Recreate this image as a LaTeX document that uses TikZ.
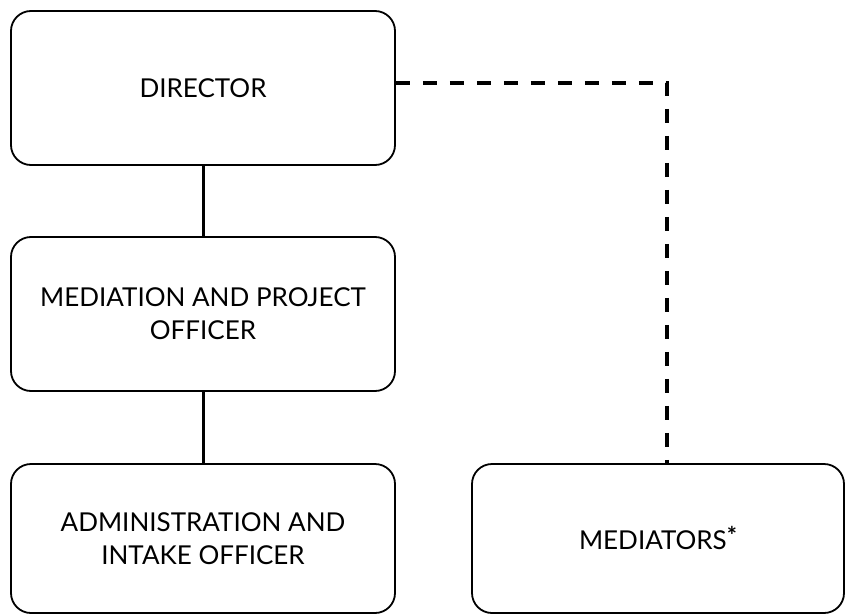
\documentclass[tikz,border=0pt]{standalone}
\usepackage{fontspec}
\setmainfont{Lato}
\usepackage{tikz}

\tikzset{
  unit/.style={draw, line width=1.8pt, rounded corners=20pt, align=center,
    inner sep=0pt, font=\fontsize{26}{33}\selectfont},
  solidlink/.style={line width=3pt},
  dashlink/.style={line width=3.2pt, dash pattern=on 14pt off 13pt}
}

\begin{document}
\begin{tikzpicture}[x=1pt, y=-1pt]

  \useasboundingbox (0,0) rectangle (845,615);

  \newcommand\BoxW{384pt}
  \newcommand\BoxH{154pt}

  \node[unit, minimum width=\BoxW, minimum height=\BoxH] (director) at (203, 88) {DIRECTOR};
  \node[unit, minimum width=\BoxW, minimum height=\BoxH] (mediation) at (203, 314)
    {MEDIATION AND PROJECT\\OFFICER};
  \node[unit, minimum width=\BoxW, minimum height=149pt] (admin) at (203, 538.5)
    {ADMINISTRATION AND\\INTAKE OFFICER};
  \node[unit, minimum width=372pt, minimum height=149pt] (mediators) at (658, 538.5)
    {MEDIATORS\raisebox{5pt}{\fontsize{24}{24}\selectfont\bfseries *}};

  \draw[solidlink] (director) -- (mediation); %% director -> mediation
  \draw[solidlink] (mediation) -- (admin); %% mediation -> admin

  %% director - - mediators
  \draw[dashlink] ([yshift=5pt]director.east) -| ([xshift=9pt]mediators.north);

\end{tikzpicture}
\end{document}
